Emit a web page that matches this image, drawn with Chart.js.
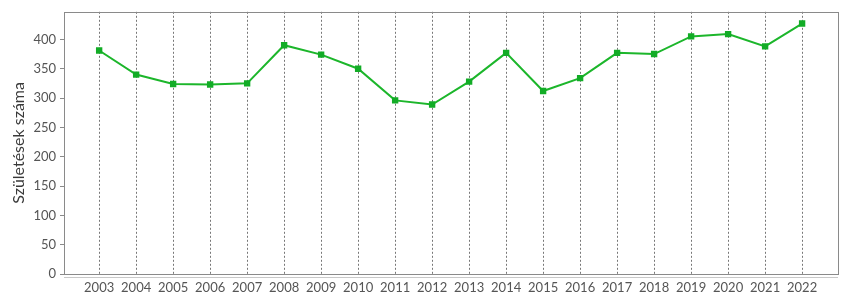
<!DOCTYPE html>
<html>
<head>
<meta charset="utf-8">
<script src="https://cdn.jsdelivr.net/npm/chart.js@4"></script>
<style>
  html, body { margin: 0; padding: 0; background: #fff; }
  #wrap { width: 850px; height: 300px; }
</style>
</head>
<body>
<div id="wrap"><canvas id="chart" width="850" height="300"></canvas></div>
<script>
// evek es szuletesek szama
var years = [2003, 2004, 2005, 2006, 2007, 2008, 2009, 2010, 2011, 2012,
             2013, 2014, 2015, 2016, 2017, 2018, 2019, 2020, 2021, 2022];
var births = [381, 340, 324, 323, 325, 390, 374, 350, 296, 289,
              328, 377, 312, 334, 377, 375, 405, 409, 388, 427];
var yTicks = [0, 50, 100, 150, 200, 250, 300, 350, 400];

var points = years.map(function (y, i) { return { x: y, y: births[i] }; });

// keret a rajzterulet korul
var frame = {
  id: 'frame',
  afterDraw: function (chart) {
    var a = chart.chartArea, ctx = chart.ctx;
    ctx.save();
    ctx.strokeStyle = '#8a8a8a';
    ctx.lineWidth = 1;
    ctx.strokeRect(Math.round(a.left) + 0.5, Math.round(a.top) + 0.5,
                   Math.round(a.right - a.left), Math.round(a.bottom - a.top));
    ctx.strokeStyle = '#c8c8c8';
    ctx.beginPath();
    ctx.moveTo(a.left, Math.round(a.bottom) + 3.5);
    ctx.lineTo(a.right, Math.round(a.bottom) + 3.5);
    ctx.stroke();
    ctx.restore();
  }
};

new Chart(document.getElementById('chart'), {
  type: 'line',
  data: {
    datasets: [{
      data: points,
      borderColor: '#1cb62b',
      backgroundColor: '#12ac26',
      borderWidth: 2,
      pointStyle: 'rect',
      pointRadius: 4.5,
      pointHoverRadius: 4.5,
      pointBorderWidth: 0,
      tension: 0
    }]
  },
  options: {
    responsive: false,
    animation: false,
    layout: { padding: { left: 9, right: 12, top: 8, bottom: 0 } },
    plugins: { legend: { display: false }, tooltip: { enabled: false } },
    scales: {
      x: {
        type: 'linear',
        min: 2002.05,
        max: 2022.97,
        afterBuildTicks: function (scale) {
          scale.ticks = years.map(function (v) { return { value: v }; });
        },
        afterFit: function (scale) { scale.height = 26; },
        ticks: {
          color: '#555',
          font: { family: 'Lato', size: 13 },
          padding: 6,
          maxRotation: 0,
          autoSkip: false,
          callback: function (v) { return String(v); }
        },
        grid: {
          color: '#777',
          lineWidth: 1,
          drawTicks: false
        },
        border: { display: false, dash: [2, 2] }
      },
      y: {
        min: 0,
        max: 447,
        afterBuildTicks: function (scale) {
          scale.ticks = yTicks.map(function (v) { return { value: v }; });
        },
        afterFit: function (scale) { scale.width = 55; },
        ticks: {
          color: '#555',
          font: { family: 'Lato', size: 13 },
          padding: 4
        },
        grid: {
          drawOnChartArea: false,
          tickLength: 4,
          color: '#8a8a8a'
        },
        border: { display: false },
        title: {
          display: true,
          text: 'Születések száma',
          color: '#3a3a3a',
          font: { family: 'Lato', size: 16 },
          padding: { top: 0, bottom: 0 }
        }
      }
    }
  },
  plugins: [frame]
});
</script>
</body>
</html>
